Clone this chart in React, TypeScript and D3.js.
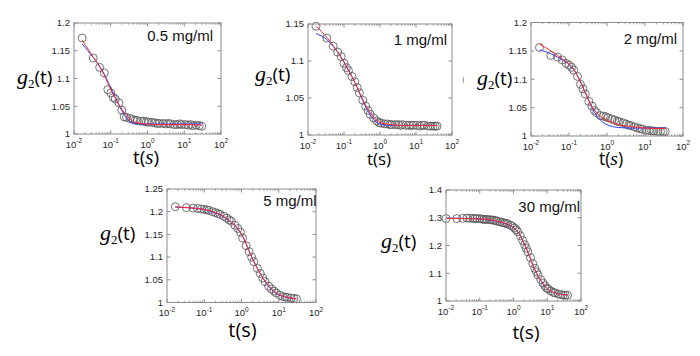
import React from 'react';
import * as d3 from 'd3';

// ---------- data ----------
const lagTimes = [0.0167, 0.0333, 0.05, 0.0667, 0.0833, 0.1, 0.117, 0.133, 0.167, 0.2, 0.233, 0.267, 0.333, 0.4, 0.467, 0.533, 0.667, 0.8, 0.933, 1.07, 1.33, 1.6, 1.87, 2.13, 2.67, 3.2, 3.73, 4.27, 5.33, 6.4, 7.47, 8.53, 10.7, 12.8, 14.9, 17.1, 21.3, 25.6, 29.9, 34.1, 38.4];
const lagTimes30 = [0.01, 0.021, 0.031, 0.042, 0.052, 0.063, 0.073, 0.083, 0.1, 0.117, 0.133, 0.15, 0.167, 0.2, 0.233, 0.267, 0.3, 0.333, 0.4, 0.467, 0.533, 0.6, 0.667, 0.8, 0.933, 1.07, 1.2, 1.33, 1.6, 1.87, 2.13, 2.4, 2.67, 3.2, 3.73, 4.27, 4.8, 5.33, 6.4, 7.47, 8.53, 9.6, 10.7, 12.8, 14.9, 17.1, 21.3, 25.6, 29.9, 34.1, 40];

const g2_05 = [1.173, 1.137, 1.120, 1.110, 1.080, 1.074, 1.066, 1.063, 1.056, 1.043, 1.031, 1.030, 1.028, 1.026, 1.025, 1.024, 1.023, 1.023, 1.022, 1.021, 1.021, 1.020, 1.019, 1.019, 1.019, 1.018, 1.019, 1.018, 1.017, 1.017, 1.018, 1.017, 1.017, 1.016, 1.017, 1.015, 1.016, 1.015, 1.014];
const g2_1 = [1.147, 1.131, 1.120, 1.112, 1.106, 1.097, 1.091, 1.087, 1.079, 1.072, 1.064, 1.057, 1.047, 1.039, 1.033, 1.028, 1.023, 1.019, 1.017, 1.016, 1.015, 1.015, 1.014, 1.014, 1.014, 1.014, 1.013, 1.014, 1.013, 1.013, 1.013, 1.013, 1.013, 1.012, 1.013, 1.013, 1.012, 1.012, 1.012, 1.012, 1.012];
const g2_2 = [1.156, 1.142, 1.139, 1.134, 1.128, 1.125, 1.121, 1.116, 1.105, 1.091, 1.083, 1.074, 1.061, 1.053, 1.045, 1.041, 1.036, 1.035, 1.034, 1.032, 1.030, 1.028, 1.026, 1.025, 1.023, 1.021, 1.019, 1.018, 1.016, 1.014, 1.013, 1.012, 1.010, 1.010, 1.009, 1.009, 1.008, 1.008, 1.008, 1.008];
const g2_5 = [1.211, 1.209, 1.208, 1.207, 1.206, 1.205, 1.204, 1.203, 1.200, 1.198, 1.196, 1.194, 1.190, 1.186, 1.182, 1.179, 1.170, 1.163, 1.155, 1.142, 1.125, 1.112, 1.100, 1.090, 1.075, 1.064, 1.054, 1.046, 1.036, 1.030, 1.025, 1.021, 1.016, 1.013, 1.012, 1.011, 1.010, 1.009, 1.008];
const g2_30 = [1.297, 1.297, 1.298, 1.299, 1.298, 1.298, 1.297, 1.297, 1.297, 1.295, 1.294, 1.294, 1.294, 1.293, 1.292, 1.291, 1.289, 1.287, 1.285, 1.283, 1.281, 1.280, 1.278, 1.273, 1.269, 1.263, 1.257, 1.250, 1.235, 1.218, 1.203, 1.190, 1.177, 1.156, 1.135, 1.118, 1.105, 1.094, 1.077, 1.065, 1.055, 1.047, 1.043, 1.036, 1.031, 1.029, 1.025, 1.023, 1.021, 1.021, 1.021];

const fitTimes = [0.0167, 0.0333, 0.05, 0.0667, 0.1, 0.133, 0.2, 0.267, 0.4, 0.667, 1, 2, 4, 10, 40];
const fitTimes30 = [0.01, 0.03, 0.1, 0.2, 0.4, 0.667, 1, 1.5, 2, 3, 4, 6, 10, 20, 40];

const red_05 = [1.169, 1.139, 1.121, 1.106, 1.080, 1.064, 1.045, 1.033, 1.023, 1.019, 1.018, 1.017, 1.017, 1.017, 1.016];
const blue_05 = [1.162, 1.138, 1.122, 1.108, 1.083, 1.066, 1.042, 1.029, 1.020, 1.018, 1.018, 1.018, 1.018, 1.018, 1.018];
const red_1 = [1.147, 1.132, 1.121, 1.112, 1.098, 1.087, 1.071, 1.058, 1.040, 1.024, 1.017, 1.014, 1.013, 1.013, 1.013];
const blue_1 = [1.137, 1.129, 1.120, 1.112, 1.099, 1.088, 1.071, 1.057, 1.038, 1.021, 1.015, 1.013, 1.013, 1.013, 1.013];
const red_2 = [1.162, 1.150, 1.142, 1.136, 1.127, 1.118, 1.095, 1.077, 1.052, 1.035, 1.028, 1.020, 1.017, 1.014, 1.013];
const blue_2 = [1.152, 1.145, 1.139, 1.134, 1.126, 1.117, 1.096, 1.077, 1.050, 1.028, 1.020, 1.015, 1.014, 1.014, 1.014];
const red_5 = [1.211, 1.209, 1.208, 1.207, 1.205, 1.203, 1.198, 1.194, 1.185, 1.170, 1.151, 1.095, 1.051, 1.018, 1.008];
const blue_5 = [1.210, 1.209, 1.208, 1.207, 1.205, 1.202, 1.197, 1.193, 1.184, 1.169, 1.150, 1.096, 1.050, 1.017, 1.008];
const red_30 = [1.297, 1.297, 1.296, 1.293, 1.285, 1.277, 1.265, 1.240, 1.212, 1.160, 1.122, 1.080, 1.045, 1.027, 1.021];
const blue_30 = [1.299, 1.298, 1.296, 1.292, 1.284, 1.276, 1.264, 1.241, 1.210, 1.161, 1.120, 1.079, 1.044, 1.027, 1.022];

const concentrations = ['0.5 mg/ml', '1 mg/ml', '2 mg/ml', '5 mg/ml', '30 mg/ml'];
const xTickExponents = ['-2', '-1', '0', '1', '2'];
const yTicks1 = ['1', '1.05', '1.1', '1.15', '1.2'];
const yTicks2 = ['1', '1.05', '1.1', '1.15'];
const yTicks3 = ['1', '1.05', '1.1', '1.15', '1.2'];
const yTicks4 = ['1', '1.05', '1.1', '1.15', '1.2', '1.25'];
const yTicks5 = ['1', '1.1', '1.2', '1.3', '1.4'];

// ---------- panel assembly ----------
const panels = [
  { label: concentrations[0], t: lagTimes, g: g2_05, ft: fitTimes, red: red_05, blue: blue_05, yTicks: yTicks1 },
  { label: concentrations[1], t: lagTimes, g: g2_1, ft: fitTimes, red: red_1, blue: blue_1, yTicks: yTicks2 },
  { label: concentrations[2], t: lagTimes, g: g2_2, ft: fitTimes, red: red_2, blue: blue_2, yTicks: yTicks3 },
  { label: concentrations[3], t: lagTimes, g: g2_5, ft: fitTimes, red: red_5, blue: blue_5, yTicks: yTicks4 },
  { label: concentrations[4], t: lagTimes30, g: g2_30, ft: fitTimes30, red: red_30, blue: blue_30, yTicks: yTicks5 },
];

// layout (positions / sizes) kept separate from the data
const layouts = [
  { x0: 74, x1: 221, y0: 23, y1: 134, yl: [17, 84, 19], xl: [146, 164, 19, true], ann: [213, 41] },
  { x0: 308, x1: 452, y0: 24, y1: 135, yl: [255, 81, 19], xl: [379, 165, 17, false], ann: [447, 45] },
  { x0: 531, x1: 683, y0: 22.5, y1: 136, yl: [477, 85, 19], xl: [611, 165, 17.5, true], ann: [677, 43.5] },
  { x0: 167, x1: 316, y0: 189, y1: 302.5, yl: [100, 239.5, 19], xl: [242.5, 337, 20, false], ann: [316.5, 206] },
  { x0: 446, x1: 581, y0: 190, y1: 301, yl: [381, 247.5, 19], xl: [526, 339, 19, false], ann: [580, 211.5] },
];

const FRAME = '#8c8c8c';
const TICKTXT = '#262626';
const SANS = 'Liberation Sans, Arial, sans-serif';

function Panel({ p, L }: any) {
  const yMax = +p.yTicks[p.yTicks.length - 1];
  const x = d3.scaleLog().domain([0.01, 100]).range([L.x0, L.x1]);
  const y = d3.scaleLinear().domain([1, yMax]).range([L.y1, L.y0]);
  const allTicks = x.ticks();
  const majors = allTicks.filter((v) => Math.abs(Math.log10(v) - Math.round(Math.log10(v))) < 1e-9);
  const minors = allTicks.filter((v) => !majors.includes(v));

  const lastT = p.t[p.g.length - 1];
  const fitPts = (vals: number[]) => {
    const pts: [number, number][] = [];
    let endVal = vals[vals.length - 1];
    for (let i = 0; i < p.ft.length; i++) {
      if (p.ft[i] < lastT) pts.push([x(p.ft[i]), y(vals[i])]);
      else { endVal = vals[i]; break; }
    }
    pts.push([x(lastT), y(endVal)]);
    return pts;
  };
  const line = d3.line().curve(d3.curveMonotoneX);
  const tl = 3.5;
  const ml = 1.8;
  const [ylx, yly, ylfs] = L.yl;
  const [xlx, xly, xlfs, italicS] = L.xl;

  return (
    <g>
      {p.g.map((v: number, i: number) => (
        <circle key={i} cx={x(p.t[i])} cy={y(v)} r={4} fill="none" stroke="#505050" strokeWidth={0.8} />
      ))}
      <path d={line(fitPts(p.blue)) || ''} fill="none" stroke="#2f3cff" strokeWidth={1} />
      <path d={line(fitPts(p.red)) || ''} fill="none" stroke="#ff2a2a" strokeWidth={1} />
      <rect x={L.x0} y={L.y0} width={L.x1 - L.x0} height={L.y1 - L.y0} fill="none" stroke={FRAME} strokeWidth={1} />
      {majors.map((v, i) => (
        <g key={'M' + i}>
          <line x1={x(v)} x2={x(v)} y1={L.y1} y2={L.y1 - tl} stroke={FRAME} />
          <line x1={x(v)} x2={x(v)} y1={L.y0} y2={L.y0 + tl} stroke={FRAME} />
          <text x={x(v)} y={L.y1 + 13.5} textAnchor="middle" fontFamily={SANS} fontSize={9.5} fill={TICKTXT}>
            10<tspan fontSize={6.5} dy={-4.5}>{xTickExponents[i]}</tspan>
          </text>
        </g>
      ))}
      {minors.map((v, i) => (
        <g key={'m' + i}>
          <line x1={x(v)} x2={x(v)} y1={L.y1} y2={L.y1 - ml} stroke={FRAME} strokeWidth={0.8} />
          <line x1={x(v)} x2={x(v)} y1={L.y0} y2={L.y0 + ml} stroke={FRAME} strokeWidth={0.8} />
        </g>
      ))}
      {p.yTicks.map((s: string, i: number) => (
        <g key={'y' + i}>
          <line x1={L.x0} x2={L.x0 + tl} y1={y(+s)} y2={y(+s)} stroke={FRAME} />
          <line x1={L.x1} x2={L.x1 - tl} y1={y(+s)} y2={y(+s)} stroke={FRAME} />
          <text x={L.x0 - 4} y={y(+s) + 3.3} textAnchor="end" fontFamily={SANS} fontSize={9.5} fill={TICKTXT}>{s}</text>
        </g>
      ))}
      <text x={L.ann[0]} y={L.ann[1]} textAnchor="end" fontFamily={SANS} fontSize={15} fill="#111">{p.label}</text>
      <text x={ylx} y={yly} fill="#000">
        <tspan fontFamily="Liberation Serif, serif" fontStyle="italic" fontSize={ylfs + 3}>g</tspan>
        <tspan fontFamily="Liberation Serif, serif" fontSize={ylfs * 0.68} dy={4}>2</tspan>
        <tspan fontFamily="Open Sans, sans-serif" fontSize={ylfs} dy={-4}>(t)</tspan>
      </text>
      <text x={xlx} y={xly} textAnchor="middle" fill="#000" fontFamily="Open Sans, sans-serif" fontSize={xlfs}>
        t(
        <tspan fontFamily={italicS ? 'Liberation Serif, serif' : 'Open Sans, sans-serif'} fontStyle={italicS ? 'italic' : 'normal'} fontSize={italicS ? xlfs + 2 : xlfs}>s</tspan>
        )
      </text>
    </g>
  );
}

export default function App() {
  return (
    <svg width={700} height={356} style={{ position: 'absolute', left: 0, top: 0, background: '#fff' }}>
      <rect x={0} y={0} width={700} height={356} fill="#fff" />
      {panels.map((p, i) => (
        <Panel key={i} p={p} L={layouts[i]} />
      ))}
      <line x1={463.5} x2={463.5} y1={77} y2={83} stroke="#aaa" strokeWidth={1.2} />
    </svg>
  );
}
